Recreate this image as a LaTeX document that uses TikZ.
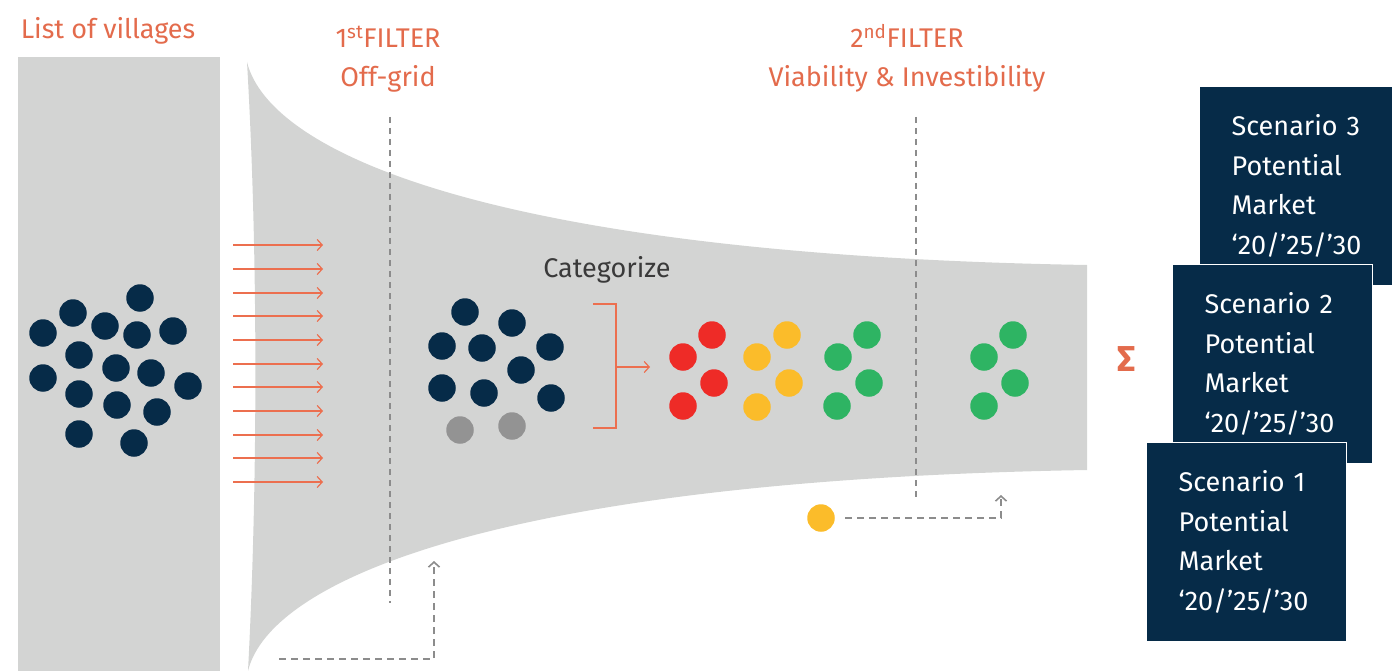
\documentclass[tikz,border=0pt]{standalone}
\usepackage{fontspec}
\setmainfont{Fira Sans}
\usetikzlibrary{arrows.meta}
\definecolor{navy}{HTML}{062B48}
\definecolor{bgray}{HTML}{D3D4D3}
\definecolor{orng}{HTML}{E36B4C}
\definecolor{aline}{HTML}{EC6F4F}
\definecolor{dred}{HTML}{EE2B27}
\definecolor{dyel}{HTML}{FBBC2A}
\definecolor{dgrn}{HTML}{2EB463}
\definecolor{dgry}{HTML}{939393}
\definecolor{dashgray}{HTML}{8C8C8C}
\definecolor{txtgray}{HTML}{3A3A3A}
\begin{document}
\begin{tikzpicture}[x=1pt,y=-1pt,
  dot/.style={circle, minimum size=27.5pt, inner sep=0pt, draw=none},
  title/.style={text=orng, font=\fontsize{27}{30}\selectfont, anchor=base, inner sep=0pt},
  redarrow/.style={aline, line width=1.2pt, -{Straight Barb[length=5pt,width=11pt]}},
  bracketline/.style={aline, line width=1.2pt},
  filterline/.style={dashgray, line width=1.6pt, dash pattern=on 6pt off 5pt},
  feedback/.style={dashgray, line width=1.6pt, dash pattern=on 7pt off 5pt, -{Straight Barb[length=5pt,width=11pt]}},
  scbox/.style={fill=navy, draw=white, line width=1.2pt, minimum width=200pt, minimum height=199pt,
    text width=136pt, inner xsep=32pt, inner ysep=0pt, align=left, text=white,
    font=\fontsize{27}{39.5}\selectfont, anchor=north west}
]
\useasboundingbox (0,0) rectangle (1392,671);
% left list rectangle
\fill[bgray] (18,57) rectangle (220,671);
% funnel
\fill[bgray] (247,62) .. controls (270,155) and (500,255) .. (1087,265) -- (1087,470)
  .. controls (500,480) and (270,580) .. (248,671)
  .. controls (258,480) and (258,250) .. (247,62) -- cycle;
% filter lines
\coordinate (f1t) at (390,117); \coordinate (f1b) at (390,603);
\coordinate (f2t) at (916,117); \coordinate (f2b) at (916,497);
\draw[filterline] (f1t) -- (f1b);
\draw[filterline] (f2t) -- (f2b);
% titles
\node[title] (lov) at (108,39) {List of villages};
\node[title] (t1a) at (388,48) {1\textsuperscript{st}FILTER};
\node[title] (t1b) at (388,87) {Off-grid};
\node[title] (t2a) at (907,48) {2\textsuperscript{nd}FILTER};
\node[title] (t2b) at (907,87) {Viability \& Investibility};
\node[text=txtgray, font=\fontsize{27}{30}\selectfont, anchor=base, inner sep=0pt] (cat) at (607,277) {Categorize};
% villages
\foreach \x/\y [count=\i] in {140/298, 73/313, 43/333, 105/326, 137/335, 173/331, 79/355, 116/368,
  151/373, 43/378, 188/386, 79/394, 117/405, 157/412, 79/434, 134/443}
  \node[dot, fill=navy] (v\i) at (\x,\y) {};
% red arrows
\foreach \y [count=\i] in {245,269,293,316,340,364,387,411,435,458,482}{
  \coordinate (a\i s) at (233,\y); \coordinate (a\i e) at (323,\y);
  \draw[redarrow] (a\i s) -- (a\i e);
}
% off-grid villages
\foreach \x/\y [count=\i] in {465/312, 512/323, 442/346, 482/348, 550/347, 521/370, 442/388, 484/393, 551/398}
  \node[dot, fill=navy] (m\i) at (\x,\y) {};
\node[dot, fill=dgry] (g1) at (460,430) {};
\node[dot, fill=dgry] (g2) at (512,426) {};
% bracket
\coordinate (b1) at (593,304); \coordinate (b2) at (616,304);
\coordinate (b3) at (616,428); \coordinate (b4) at (593,428);
\coordinate (bm) at (616,367); \coordinate (be) at (650,367);
\draw[bracketline] (b1) -- (b2) -- (b3) -- (b4);
\draw[redarrow] (bm) -- (be);
% categorized
\foreach \x/\y [count=\i] in {712/335, 683/357, 714/383, 683/406}
  \node[dot, fill=dred] (r\i) at (\x,\y) {};
\foreach \x/\y [count=\i] in {787/335, 757/357, 789/383, 757/407}
  \node[dot, fill=dyel] (y\i) at (\x,\y) {};
\foreach \x/\y [count=\i] in {867/335, 838/357, 869/383, 837/406}
  \node[dot, fill=dgrn] (gr\i) at (\x,\y) {};
\foreach \x/\y [count=\i] in {1013/335, 984/357, 1015/383, 984/406}
  \node[dot, fill=dgrn] (fg\i) at (\x,\y) {};
% feedback loops
\coordinate (d1s) at (279,659); \coordinate (d1e) at (434,561);
\draw[feedback] (d1s) -| (d1e);
\node[dot, fill=dyel] (yd) at (821,518) {};
\coordinate (d2s) at (845,518); \coordinate (d2e) at (1001,495);
\draw[feedback] (d2s) -| (d2e);
% sigma
\node[text=orng, font=\fontsize{36}{40}\selectfont\bfseries, inner sep=0pt] (sig) at (1127,359) {Σ};
% scenario boxes
\node[scbox] (s3) at (1199,86) {Scenario 3\\Potential\\Market\\‘20/’25/’30};
\node[scbox] (s2) at (1172,264) {Scenario 2\\Potential\\Market\\‘20/’25/’30};
\node[scbox] (s1) at (1146,442) {Scenario 1\\Potential\\Market\\‘20/’25/’30};
\end{tikzpicture}
\end{document}
